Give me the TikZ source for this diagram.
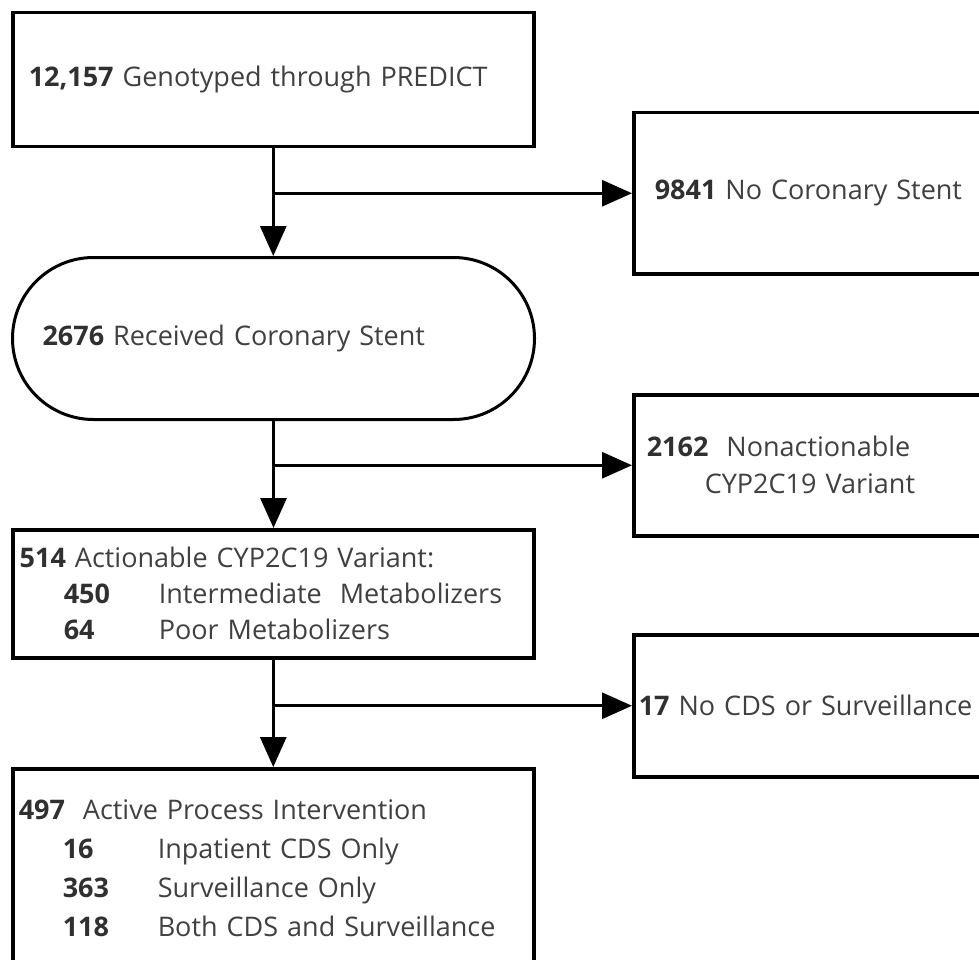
\documentclass[tikz,border=0pt]{standalone}
\usepackage{fontspec}
\setmainfont{Open Sans}
\usetikzlibrary{arrows.meta}
\definecolor{txtgray}{HTML}{404040}
\definecolor{numgray}{HTML}{303030}
\newcommand{\cnt}[1]{{\bfseries\color{numgray}#1}}
\newcommand{\subrow}[2]{\hspace*{44pt}\makebox[95pt][l]{\cnt{#1}}#2}
\begin{document}
\begin{tikzpicture}[x=1pt,y=-1pt,line join=miter,
    box/.style={draw,line width=3.5pt,rectangle,align=left,anchor=north west,
      text=txtgray,font=\fontsize{27}{36}\selectfont},
    flow/.style={line width=3pt,-{Triangle[length=30pt,width=26pt]}}]
  \clip (0,0) rectangle (979,960);
  % left column
  \node[box,minimum height=134pt,inner xsep=16pt,text width=489pt] (geno) at (11,11)
    {\cnt{12,157} Genotyped through PREDICT};
  \node[box,line width=3pt,rounded corners=81pt,minimum height=162pt,inner xsep=30pt,text width=462pt] (stent) at (11,256)
    {\cnt{2676} Received Coronary Stent};
  \node[box,minimum height=128pt,inner xsep=7pt,text width=507pt] (act) at (11,528)
    {\cnt{514} Actionable CYP2C19 Variant:\\
     \subrow{450}{Intermediate\ \ Metabolizers}\\
     \subrow{64}{Poor Metabolizers}};
  \node[box,minimum height=198pt,inner xsep=6pt,text width=509pt,font=\fontsize{27}{39}\selectfont] (active) at (11,767)
    {\cnt{497}\ \ Active Process Intervention\\
     \subrow{16}{Inpatient CDS Only}\\
     \subrow{363}{Surveillance Only}\\
     \subrow{118}{Both CDS and Surveillance}};
  % right column
  \node[box,minimum height=161pt,inner xsep=21pt,text width=358pt] (nostent) at (632,111)
    {\cnt{9841} No Coronary Stent};
  \node[box,minimum height=141pt,inner xsep=13pt,text width=374pt,font=\fontsize{27}{37}\selectfont] (nonact) at (632,393)
    {\cnt{2162}\ \ Nonactionable\\\hspace*{58pt}CYP2C19 Variant};
  \node[box,minimum height=142pt,inner xsep=5pt,text width=390pt] (nocds) at (632,633)
    {\cnt{17} No CDS or Surveillance};
  % connectors
  \draw[flow] (geno.south) -- (geno.south |- stent.north);
  \draw[flow] (geno.south |- nostent.west) -- (nostent.west);
  \draw[flow] (stent.south) -- (stent.south |- act.north);
  \draw[flow] (stent.south |- nonact.west) -- (nonact.west);
  \draw[flow] (act.south) -- (act.south |- active.north);
  \draw[flow] (act.south |- nocds.west) -- (nocds.west);
\end{tikzpicture}
\end{document}
